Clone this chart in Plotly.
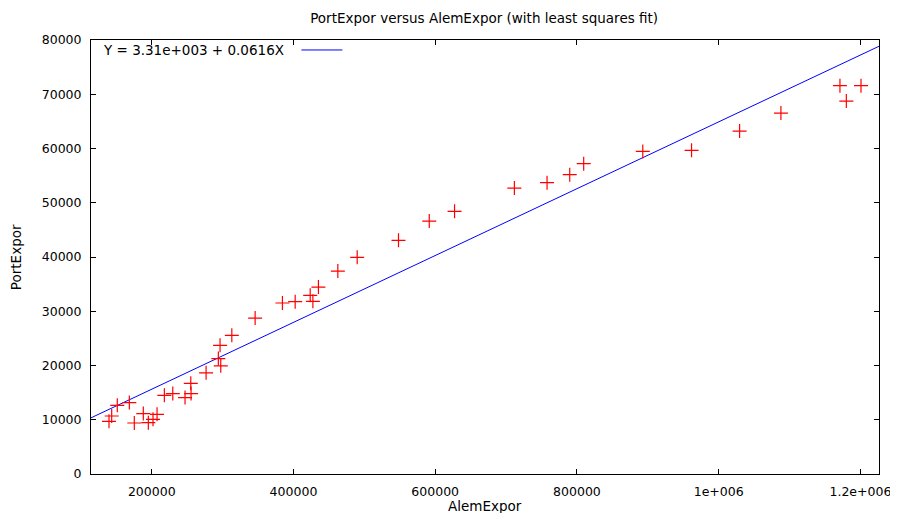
import plotly.graph_objects as go

# Data
alem_expor = [139700, 143500, 151400, 168400, 175400, 188100, 195200, 201800, 207500,
              217800, 229700, 247000, 255500, 255100, 276700, 297400, 294000, 296400,
              313000, 345900, 384400, 402400, 423600, 427400, 435200, 462600, 489900,
              548200, 591600, 627300, 711700, 757800, 789800, 809500, 892900, 961700,
              1029500, 1087800, 1171100, 1200800, 1180100]
port_expor = [9710, 10690, 12660, 13160, 9400, 11130, 9470, 10080, 11000,
              14500, 14820, 14080, 14820, 16720, 18650, 19940, 21270, 23720,
              25560, 28750, 31520, 31770, 32930, 31830, 34460, 37410, 39940,
              43070, 46630, 48420, 52710, 53700, 55180, 57210, 59470, 59660,
              63210, 66530, 71580, 71580, 68740]

fit_intercept = 3310.0
fit_slope = 0.0616
fit_label = "Y = 3.31e+003 + 0.0616X"

x_range = [114300, 1226200]
y_range = [0, 80000]
x_tickvals = [200000, 400000, 600000, 800000, 1000000, 1200000]
x_ticktext = ["200000", "400000", "600000", "800000", "1e+006", "1.2e+006"]
y_tickvals = [0, 10000, 20000, 30000, 40000, 50000, 60000, 70000, 80000]
y_ticktext = ["0", "10000", "20000", "30000", "40000", "50000", "60000", "70000", "80000"]

fit_x = x_range
fit_y = [fit_intercept + fit_slope * v for v in fit_x]

FONT = "DejaVu Sans"
TXT = 13.5
TICK = 12.5

fig = go.Figure()
fig.add_trace(go.Scatter(
    x=fit_x, y=fit_y, mode="lines",
    line=dict(color="#0000ff", width=1),
    showlegend=False, hoverinfo="skip",
))
fig.add_trace(go.Scatter(
    x=alem_expor, y=port_expor, mode="markers",
    marker=dict(symbol="cross-thin", size=10, line=dict(color="#ff0000", width=1.2), color="#ff0000"),
    showlegend=False,
))

axis_common = dict(
    showline=True, linecolor="black", linewidth=1, mirror="ticks",
    ticks="inside", ticklen=5, tickcolor="black", tickwidth=1,
    showgrid=False, zeroline=False, automargin=False,
    tickfont=dict(family=FONT, size=TICK, color="black"),
)

fig.update_xaxes(
    range=x_range, tickvals=x_tickvals, ticktext=x_ticktext,
    ticklabelstandoff=6,
    **axis_common,
)
fig.update_yaxes(
    range=y_range, tickvals=y_tickvals, ticktext=y_ticktext,
    ticklabelstandoff=6,
    **axis_common,
)

# Axis titles
fig.add_annotation(
    xref="paper", yref="paper", x=0.5, y=-0.074, xanchor="center", yanchor="middle",
    text="AlemExpor", showarrow=False, font=dict(family=FONT, size=TXT, color="black"),
)
fig.add_annotation(
    xref="paper", yref="paper", x=-0.095, y=0.5, xanchor="center", yanchor="middle",
    text="PortExpor", textangle=-90, showarrow=False, font=dict(family=FONT, size=TXT, color="black"),
)

# Legend (text then line sample, gnuplot style)
fig.add_annotation(
    xref="paper", yref="paper", x=0.013, y=0.977, xanchor="left", yanchor="middle",
    text=fit_label, showarrow=False,
    font=dict(family=FONT, size=TXT, color="black"),
)
fig.add_shape(
    type="line", xref="paper", yref="paper",
    x0=0.267, x1=0.319, y0=0.977, y1=0.977,
    line=dict(color="#0000ff", width=1),
)

# The page body has an 8px margin, so the figure is sized/offset to compensate
fig.update_layout(
    width=890, height=505,
    margin=dict(l=83, r=19, t=32, b=39),
    paper_bgcolor="white", plot_bgcolor="white",
    title=dict(text="PortExpor versus AlemExpor (with least squares fit)",
               x=0.535, xanchor="center", y=0.98, yanchor="middle",
               font=dict(family=FONT, size=TXT, color="black")),
    font=dict(family=FONT, size=TXT, color="black"),
)

fig.write_html("out.html")
